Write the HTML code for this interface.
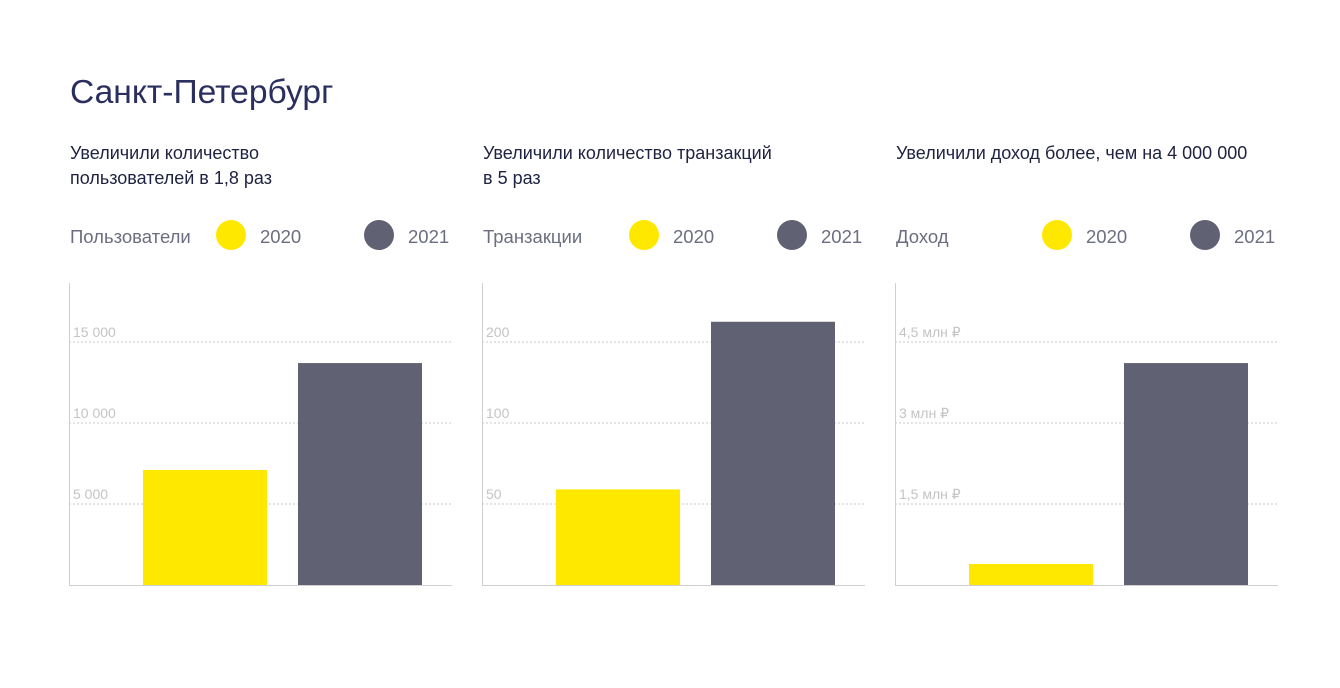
<!DOCTYPE html>
<html><head><meta charset="utf-8"><style>
html,body{margin:0;padding:0;background:#fff;}
body{width:1340px;height:683px;overflow:hidden;font-family:"Liberation Sans",sans-serif;}
svg text{font-family:"Liberation Sans",sans-serif;}
</style></head><body>
<svg id="chart" width="1340" height="683" xmlns="http://www.w3.org/2000/svg">
<text x="70" y="103" font-size="33.6" fill="#2b2f5e">Санкт-Петербург</text>
</svg>
<script>
const panelTitles = [["Увеличили количество","пользователей в 1,8 раз"],["Увеличили количество транзакций","в 5 раз"],["Увеличили доход более, чем на 4 000 000"]];
const panelLabels = ["Пользователи","Транзакции","Доход"];
const seriesNames = ["2020","2021"];
const tickValues = [[0,5000,10000,15000],[0,50,100,200],[0,1.5,3,4.5]];
const tickLabels = [["","5 000","10 000","15 000"],["","50","100","200"],["","1,5 млн ₽","3 млн ₽","4,5 млн ₽"]];
const values2020 = [7100, 59, 0.39];
const values2021 = [13700, 225, 4.11];

const NS="http://www.w3.org/2000/svg";
const svg=document.getElementById('chart');
function mk(tag,attrs,parent){const e=document.createElementNS(NS,tag);for(const k in attrs)e.setAttribute(k,attrs[k]);(parent||svg).appendChild(e);return e;}
const colors=["#ffe800","#606274"];
const baseY=585, step=81;
function yScale(p,v){
  const t=tickValues[p];
  for(let i=1;i<t.length;i++){ if(v<=t[i]) return baseY-step*((i-1)+(v-t[i-1])/(t[i]-t[i-1])); }
  const n=t.length-1;
  return baseY-step*(n+(v-t[n])/(t[n]-t[n-1]));
}
for(let p=0;p<3;p++){
  const ox=69+p*413;
  const g=mk('g',{});
  
  
  panelTitles[p].forEach((line,i)=>{
    const t=mk('text',{x:ox+1,y:159+i*25,'font-size':18,fill:'#1f2240'},g);
    
    
    t.textContent=line;
  });
  const lt=mk('text',{x:ox+1,y:243,'font-size':18.5,fill:'#6b6e80'},g);
  
  
  lt.textContent=panelLabels[p];
  seriesNames.forEach((s,i)=>{
    const cx=ox+162+i*148;
    const c=mk('circle',{cx:cx,cy:235,r:15,fill:colors[i]},g);
    
    
    const tt=mk('text',{x:cx+29,y:243,'font-size':18.5,fill:'#6b6e80'},g);
    
    
    tt.textContent=s;
  });
  for(let i=1;i<tickValues[p].length;i++){
    const y=yScale(p,tickValues[p][i]);
    const l=mk('line',{x1:ox,x2:ox+383,y1:y,y2:y,stroke:'#c8c8c8','stroke-width':1,'stroke-dasharray':'2,2'},g);
    
    
    const tl=mk('text',{x:ox+4,y:y-5,'font-size':14,fill:'#c4c4c4'},g);
    
    
    tl.textContent=tickLabels[p][i];
  }
  const vals=[values2020[p],values2021[p]];
  vals.forEach((v,i)=>{
    const y=yScale(p,v);
    const r=mk('rect',{x:ox+74+i*155,y:y,width:124,height:baseY-y,fill:colors[i]},g);
    
    
  });
  const ya=mk('line',{x1:ox+0.5,x2:ox+0.5,y1:283,y2:585,stroke:'#cfcfcf','stroke-width':1},g);
  
  
  const xa=mk('line',{x1:ox,x2:ox+383,y1:585.5,y2:585.5,stroke:'#cfcfcf','stroke-width':1},g);
  
  
}
</script>
</body></html>
